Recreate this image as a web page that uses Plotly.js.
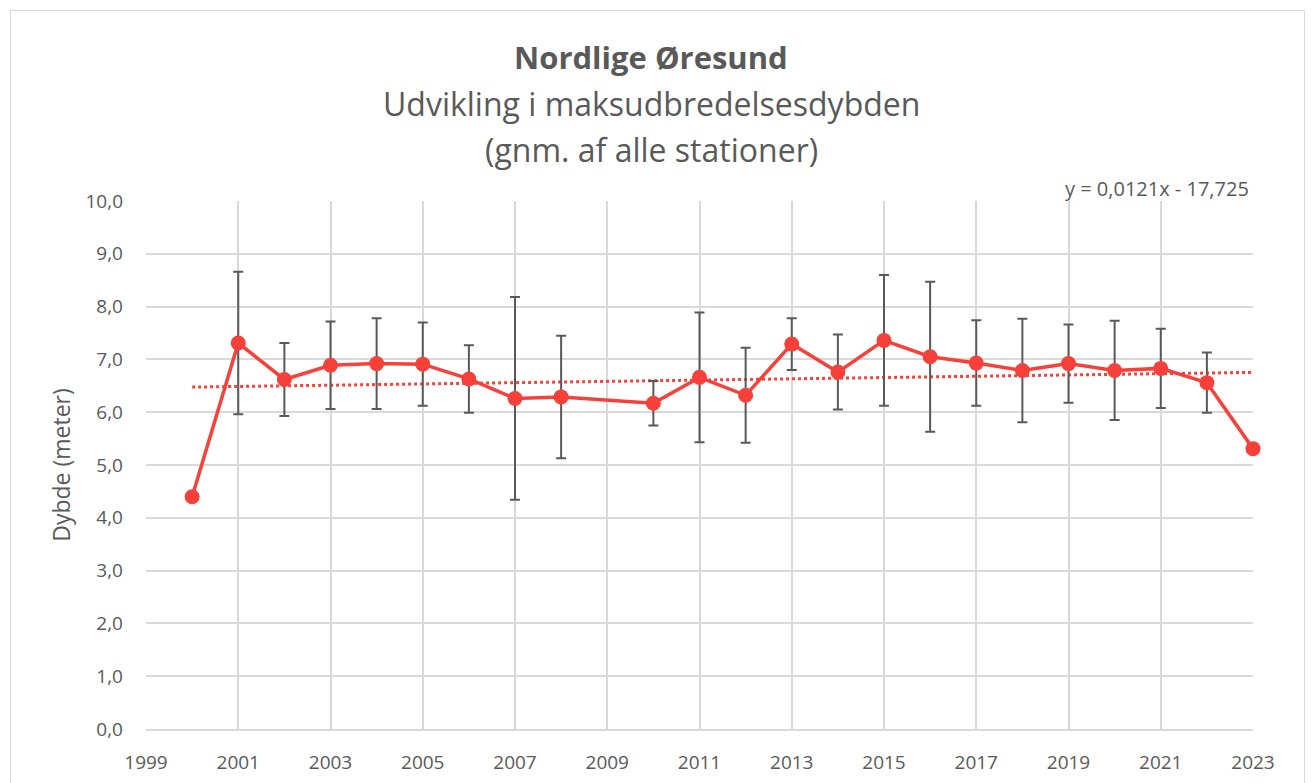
<!DOCTYPE html>
<html>
<head>
<meta charset="utf-8">
<script src="https://cdn.plot.ly/plotly-3.0.1.min.js"></script>
<style>
  body { margin: 0; background: #fff; }
  #plot { width: 1311px; height: 783px; }
  #frame { position: absolute; left: 10px; top: 10px; width: 1293px; height: 800px;
           border: 1px solid #d9d9d9; pointer-events: none; }
</style>
</head>
<body>
<div id="plot"></div>
<div id="frame"></div>
<script>
// Aar og gennemsnitlig maksudbredelsesdybde (meter)
var years = [2000, 2001, 2002, 2003, 2004, 2005, 2006, 2007, 2008, 2010, 2011,
             2012, 2013, 2014, 2015, 2016, 2017, 2018, 2019, 2020, 2021, 2022, 2023];
var depth = [4.40, 7.31, 6.62, 6.89, 6.92, 6.91, 6.63, 6.26, 6.29, 6.17, 6.66,
             6.32, 7.29, 6.76, 7.36, 7.05, 6.93, 6.79, 6.92, 6.79, 6.83, 6.56, 5.31];
// standardafvigelse (error bars), ingen for 2000 og 2023
var stdev = [0, 1.35, 0.69, 0.83, 0.86, 0.79, 0.64, 1.92, 1.16, 0.42, 1.23,
             0.90, 0.49, 0.71, 1.24, 1.42, 0.81, 0.98, 0.74, 0.94, 0.75, 0.57, 0];

// lineaer trendlinje som vist i diagrammet
var slope = 0.0121;
var intercept = -17.725;
var trendX = [years[0], years[years.length - 1]];
var trendY = trendX.map(function (x) { return slope * x + intercept; });

var titleLines = ['<b>Nordlige Øresund</b>', 'Udvikling i maksudbredelsesdybden', '(gnm. af alle stationer)'];
var equation = 'y = 0,0121x - 17,725';

var red = '#f8403a';
var grey = '#595959';
var font = 'Open Sans, Liberation Sans, sans-serif';

var traceData = {
  x: years,
  y: depth,
  type: 'scatter',
  mode: 'lines+markers',
  line: { color: red, width: 3.5 },
  marker: { color: red, size: 15 },
  cliponaxis: false,
  error_y: {
    type: 'data',
    array: stdev,
    visible: true,
    color: grey,
    thickness: 2,
    width: 5
  },
  showlegend: false
};

var traceTrend = {
  x: trendX,
  y: trendY,
  type: 'scatter',
  mode: 'lines',
  line: { color: red, width: 3, dash: 'dot' },
  showlegend: false
};

// titel som tre linjer (pixel-center 57, 103, 150 over et plot fra 201 til 729)
var titleY = [1.2727, 1.1856, 1.0966];
var titleSize = [31, 32, 32];
var annotations = titleLines.map(function (t, i) {
  return {
    text: t, xref: 'paper', yref: 'paper', x: 0.4566, y: titleY[i],
    xanchor: 'center', yanchor: 'middle', showarrow: false,
    font: { family: font, size: titleSize[i], color: grey }
  };
});
annotations.push({
  text: equation,
  xref: 'paper', yref: 'paper', x: 0.9986, y: 1.0246,
  xanchor: 'right', yanchor: 'middle', showarrow: false,
  font: { family: font, size: 20, color: grey }
});

var layout = {
  width: 1311,
  height: 783,
  separators: ',.',
  paper_bgcolor: '#fff',
  plot_bgcolor: '#fff',
  margin: { l: 146, r: 58, t: 201, b: 54 },
  font: { family: font, color: grey, size: 19 },
  xaxis: {
    range: [1999, 2023],
    dtick: 2,
    tick0: 1999,
    showgrid: true,
    gridcolor: '#d9d9d9',
    gridwidth: 1.5,
    zeroline: false,
    showline: true,
    linecolor: '#d9d9d9',
    linewidth: 1.5,
    ticks: '',
    ticklabelstandoff: 15,
    tickfont: { size: 19, color: grey }
  },
  yaxis: {
    range: [0, 10],
    dtick: 1,
    tickformat: '.1f',
    showgrid: true,
    gridcolor: '#d9d9d9',
    gridwidth: 1.5,
    zeroline: false,
    ticks: '',
    ticklabelstandoff: 22,
    tickfont: { size: 19, color: grey },
    title: { text: 'Dybde (meter)', font: { size: 23, color: grey }, standoff: 8 }
  },
  annotations: annotations
};

Plotly.newPlot('plot', [traceTrend, traceData], layout, { displayModeBar: false });
</script>
</body>
</html>
